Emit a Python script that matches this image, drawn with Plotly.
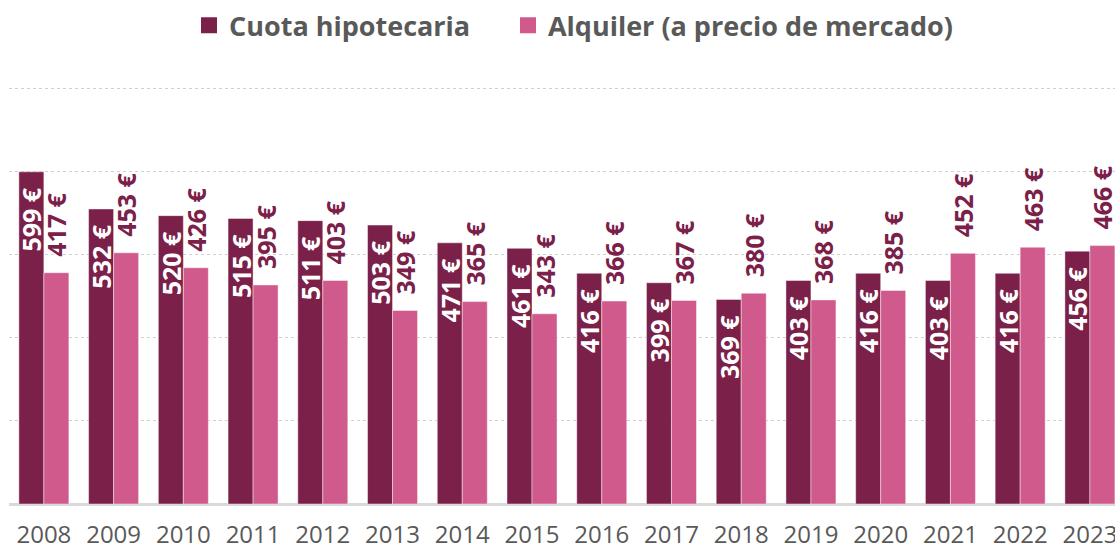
import plotly.graph_objects as go

years = ["2008", "2009", "2010", "2011", "2012", "2013", "2014", "2015",
         "2016", "2017", "2018", "2019", "2020", "2021", "2022", "2023"]
cuota = [599, 532, 520, 515, 511, 503, 471, 461, 416, 399, 369, 403, 416, 403, 416, 456]
alquiler = [417, 453, 426, 395, 403, 349, 365, 343, 366, 367, 380, 368, 385, 452, 463, 466]
series_names = ["Cuota hipotecaria", "Alquiler (a precio de mercado)"]

C_CUOTA = "#7B2049"
C_ALQ = "#D05A8B"
FONT = "Open Sans"
EDGE = dict(color="rgba(255,255,255,0.55)", width=0.8)

fig = go.Figure()
fig.add_trace(go.Bar(
    name=series_names[0], x=years, y=cuota, showlegend=False,
    marker=dict(color=C_CUOTA, line=EDGE),
    texttemplate="%{y} €&nbsp;&nbsp;", textposition="inside", insidetextanchor="end",
    textangle=-90, insidetextfont=dict(family=FONT, size=25, color="white", weight="bold"),
))
fig.add_trace(go.Bar(
    name=series_names[1], x=years, y=alquiler, showlegend=False,
    marker=dict(color=C_ALQ, line=EDGE),
    texttemplate="&nbsp;&nbsp;%{y} €", textposition="outside",
    textangle=-90, outsidetextfont=dict(family=FONT, size=25, color=C_CUOTA, weight="bold"),
    cliponaxis=False,
))

# legend entries with larger square swatches, one legend box per series
for nm, col, lg in zip(series_names, [C_CUOTA, C_ALQ], ["legend", "legend2"]):
    fig.add_trace(go.Scatter(
        x=[None], y=[None], mode="markers", name=nm, legend=lg,
        marker=dict(symbol="square", size=16, color=col),
    ))

leg_common = dict(orientation="h", xanchor="left", xref="container",
                  y=0.953, yanchor="middle", yref="container",
                  font=dict(family=FONT, size=27, color="#595959", weight="bold"),
                  bgcolor="rgba(0,0,0,0)")

fig.update_layout(
    width=1115, height=549,
    margin=dict(l=9, r=0, t=87, b=45),
    barmode="group", bargap=0.283, bargroupgap=0,
    paper_bgcolor="white", plot_bgcolor="white",
    uniformtext=dict(minsize=25, mode="show"),
    legend=dict(x=0.1695, **leg_common),
    legend2=dict(x=0.4556, **leg_common),
    xaxis=dict(range=[-0.5, 15.36], showgrid=False, ticks="", showline=False,
               ticklabelstandoff=14, automargin=False,
               tickfont=dict(family=FONT, size=24, color="#595959")),
    yaxis=dict(range=[0, 752], dtick=150, showticklabels=False, showgrid=True,
               gridcolor="#D0D0D0", griddash="dot", gridwidth=1, automargin=False,
               zeroline=True, zerolinecolor="#D9D9D9", zerolinewidth=3),
)

fig.write_html("out.html")
